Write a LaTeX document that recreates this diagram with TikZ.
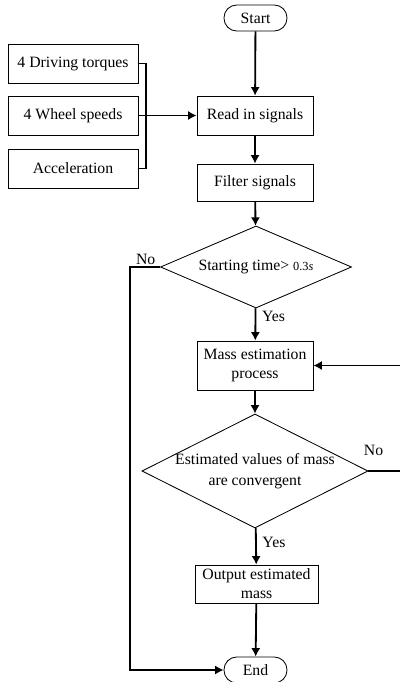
\documentclass[tikz,border=0pt]{standalone}
\usepackage{fontspec}
\setmainfont{Liberation Serif}
\usetikzlibrary{shapes.geometric,arrows.meta}

\begin{document}
\begin{tikzpicture}[x=0.025cm,y=-0.025cm,
		font=\fontsize{11.2}{13.5}\selectfont,
		box/.style={draw,line width=0.6pt,minimum width=2.9cm,minimum height=0.975cm,inner sep=1pt,align=center},
		term/.style={draw,line width=0.6pt,rounded corners=3.2mm,minimum width=1.575cm,minimum height=0.65cm,inner sep=1pt},
		decision/.style={draw,diamond,aspect=2,line width=0.6pt,inner sep=0pt,align=center},
		flow/.style={line width=1.3pt,-{Latex[length=6pt,width=6.5pt]}},
		tag/.style={inner sep=1pt}]
		\useasboundingbox (0,0) rectangle (400,682);
		% main column
		\node[term] (start) at (255.5,18) {Start};
		\node[box] (read) at (255,115.5) {Read in signals};
		\node[box,minimum height=0.925cm] (filter) at (255,182.5) {Filter signals};
		\node[decision,minimum width=4.775cm,minimum height=2.05cm] (time) at (256,267) {Starting time\textgreater{} {\fontsize{8.8}{10}\selectfont 0.3\textit{s}}};
		\node[box,minimum height=1.225cm] (mass) at (255,365.5) {Mass estimation\\process};
		\node[decision,minimum width=5.65cm,minimum height=2.85cm,inner sep=-3pt,font=\fontsize{11.2}{14.5}\selectfont] (conv) at (255,471) {Estimated values of mass\\are convergent};
		\node[box,minimum width=3.075cm,minimum height=0.95cm] (output) at (256.5,584) {Output estimated\\mass};
		\node[term] (end) at (255.5,670) {End};
		% input signals
		\node[box,minimum width=3.25cm] (torque) at (73,63.5) {4 Driving torques};
		\node[box,minimum width=3.25cm] (wheel) at (73,115.5) {4 Wheel speeds};
		\node[box,minimum width=3.25cm] (accel) at (73,168.5) {Acceleration};
		\coordinate (join) at (146,115.5);
		\coordinate (bypass) at (130,670);
		\coordinate (loop) at (405,471);

		\draw[line width=1.3pt] (torque.east) -| (join) |- (accel.east);
		\draw[flow] (wheel) -- (read);
		\draw[flow] (start) -- (read);
		\draw[flow] (read) -- (filter);
		\draw[flow] (filter) -- (time);
		\draw[flow] (time) -- node[pos=0.25,right,tag,xshift=3pt]{Yes} (mass);
		\draw[flow] (mass) -- (conv);
		\draw[flow] (conv) -- node[pos=0.38,right,tag,xshift=3pt]{Yes} (output);
		\draw[flow] (output) -- (end);
		\draw[flow] (time.west) -| node[pos=0.24,above,tag]{No} (bypass) -- (end.west);
		\draw[flow] (conv.east) -- node[pos=0.14,above=9pt,tag]{No} (loop) |- (mass.east);
	\end{tikzpicture}
\end{document}
